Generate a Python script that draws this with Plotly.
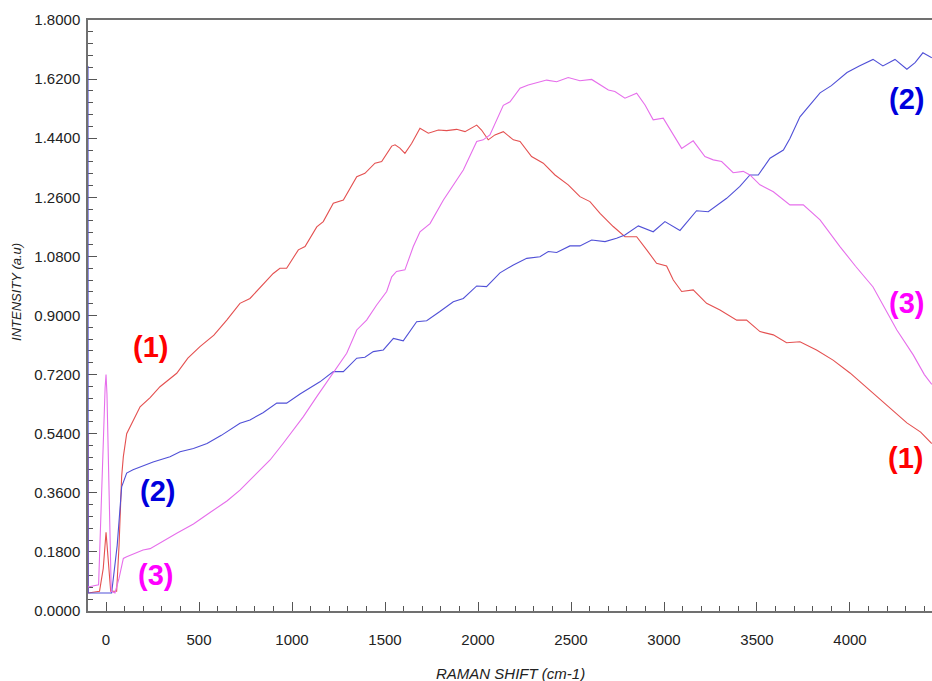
import plotly.graph_objects as go

# ---- data ----
x1 = [-97, -96, -35, -15, 0, 12, 25, 57, 70, 84, 93, 111, 129, 183, 237, 290, 380, 440, 505, 580, 649,
      720, 774, 844, 899, 935, 971, 1034, 1070, 1133, 1168, 1222, 1276, 1348, 1392, 1446, 1482, 1536,
      1554, 1580, 1607, 1643, 1688, 1733, 1787, 1831, 1885, 1930, 1993, 2019, 2055, 2091, 2136, 2190,
      2226, 2288, 2351, 2414, 2485, 2548, 2602, 2656, 2727, 2790, 2853, 2907, 2960, 3014, 3050, 3095,
      3157, 3229, 3301, 3391, 3444, 3516, 3588, 3659, 3731, 3820, 3909, 4000, 4091, 4200, 4306, 4380, 4440]
y1 = [0.54, 0.055, 0.06, 0.13, 0.24, 0.14, 0.06, 0.06, 0.2, 0.41, 0.47, 0.54, 0.56, 0.622, 0.65, 0.683,
      0.724, 0.77, 0.805, 0.84, 0.886, 0.937, 0.952, 0.993, 1.028, 1.044, 1.044, 1.10, 1.11, 1.17, 1.186,
      1.242, 1.252, 1.323, 1.333, 1.364, 1.369, 1.416, 1.42, 1.41, 1.394, 1.424, 1.47, 1.455, 1.465, 1.463,
      1.467, 1.46, 1.48, 1.465, 1.435, 1.45, 1.46, 1.435, 1.43, 1.384, 1.364, 1.328, 1.298, 1.262, 1.247,
      1.211, 1.171, 1.14, 1.14, 1.10, 1.059, 1.051, 1.008, 0.973, 0.978, 0.937, 0.917, 0.886, 0.886,
      0.851, 0.841, 0.817, 0.82, 0.795, 0.764, 0.725, 0.68, 0.625, 0.573, 0.545, 0.51]

x2 = [-97, -96, 30, 60, 84, 111, 145, 237, 253, 344, 398, 470, 543, 620, 720, 774, 844, 918, 971, 1043,
      1150, 1222, 1276, 1348, 1392, 1437, 1491, 1545, 1598, 1670, 1724, 1795, 1867, 1921, 1993, 2046,
      2118, 2190, 2262, 2333, 2378, 2423, 2494, 2548, 2611, 2683, 2745, 2790, 2862, 2942, 3005, 3086,
      3175, 3238, 3337, 3408, 3462, 3507, 3570, 3642, 3677, 3731, 3839, 3900, 3984, 4050, 4124, 4177,
      4242, 4306, 4350, 4392, 4440]
y2 = [1.66, 0.055, 0.055, 0.2, 0.378, 0.42, 0.43, 0.45, 0.454, 0.47, 0.485, 0.495, 0.51, 0.535, 0.572,
      0.582, 0.604, 0.633, 0.633, 0.661, 0.698, 0.729, 0.729, 0.77, 0.773, 0.79, 0.795, 0.83, 0.823,
      0.881, 0.884, 0.912, 0.942, 0.952, 0.99, 0.988, 1.03, 1.054, 1.074, 1.079, 1.095, 1.092, 1.112,
      1.112, 1.13, 1.125, 1.135, 1.145, 1.173, 1.155, 1.186, 1.159, 1.219, 1.216, 1.257, 1.293, 1.328,
      1.328, 1.379, 1.404, 1.439, 1.505, 1.578, 1.60, 1.64, 1.66, 1.68, 1.66, 1.68, 1.65, 1.67, 1.70, 1.685]

x3 = [-97, -40, -5, 0, 5, 28, 48, 70, 93, 111, 199, 237, 380, 470, 559, 650, 720, 810, 882, 953, 1061,
      1133, 1195, 1240, 1294, 1348, 1401, 1455, 1509, 1536, 1562, 1607, 1652, 1688, 1742, 1814, 1921,
      1993, 2028, 2064, 2136, 2172, 2226, 2270, 2333, 2369, 2423, 2485, 2548, 2611, 2701, 2736, 2790,
      2853, 2898, 2942, 2996, 3041, 3095, 3157, 3220, 3265, 3310, 3372, 3426, 3462, 3516, 3588, 3677,
      3749, 3839, 3946, 4030, 4124, 4190, 4252, 4340, 4400, 4440]
y3 = [0.073, 0.08, 0.68, 0.72, 0.66, 0.06, 0.055, 0.1, 0.16, 0.165, 0.186, 0.19, 0.237, 0.265, 0.30,
      0.335, 0.368, 0.419, 0.46, 0.511, 0.592, 0.653, 0.704, 0.744, 0.785, 0.856, 0.886, 0.932, 0.973,
      1.018, 1.034, 1.039, 1.11, 1.155, 1.18, 1.252, 1.343, 1.43, 1.435, 1.45, 1.54, 1.551, 1.592, 1.602,
      1.612, 1.617, 1.612, 1.625, 1.615, 1.619, 1.587, 1.582, 1.562, 1.577, 1.541, 1.496, 1.501, 1.46,
      1.409, 1.432, 1.384, 1.374, 1.369, 1.335, 1.339, 1.328, 1.298, 1.277, 1.237, 1.237, 1.191, 1.11,
      1.05, 0.987, 0.92, 0.856, 0.78, 0.72, 0.69]

y_ticks = [0.0, 0.18, 0.36, 0.54, 0.72, 0.90, 1.08, 1.26, 1.44, 1.62, 1.80]
x_ticks = [0, 500, 1000, 1500, 2000, 2500, 3000, 3500, 4000]

labels = ["(1)", "(1)", "(2)", "(2)", "(3)", "(3)"]
label_x = [237, 4300, 274, 4305, 264, 4305]
label_y = [0.804, 0.466, 0.367, 1.56, 0.11, 0.937]
label_col = ["#ff0000", "#ff0000", "#0000dd", "#0000dd", "#ff00ff", "#ff00ff"]

FONT = "Liberation Sans, Arial, sans-serif"

fig = go.Figure()
fig.add_trace(go.Scatter(x=x1, y=y1, mode="lines", line=dict(color="rgb(228,80,80)", width=1.1),
                         showlegend=False))
fig.add_trace(go.Scatter(x=x2, y=y2, mode="lines", line=dict(color="rgb(80,80,215)", width=1.1),
                         showlegend=False))
fig.add_trace(go.Scatter(x=x3, y=y3, mode="lines", line=dict(color="rgb(230,110,235)", width=1.1),
                         showlegend=False))

for t, xx, yy, c in zip(labels, label_x, label_y, label_col):
    fig.add_annotation(x=xx, y=yy, text="<b>%s</b>" % t, showarrow=False,
                       font=dict(family=FONT, size=29, color=c), xanchor="center", yanchor="middle")

fig.add_annotation(xref="paper", yref="paper", x=0.5, y=-0.105, text="<i>RAMAN SHIFT (cm-1)</i>",
                   showarrow=False, font=dict(family=FONT, size=15, color="#222"),
                   xanchor="center", yanchor="middle")
fig.add_annotation(xref="paper", yref="paper", x=-0.0841, y=0.54, text="<i>INTENSITY (a.u)</i>",
                   showarrow=False, textangle=-90, font=dict(family=FONT, size=13, color="#222"),
                   xanchor="center", yanchor="middle")

fig.update_layout(
    width=932, height=681,
    margin=dict(l=88, r=0, t=20, b=70),
    paper_bgcolor="white", plot_bgcolor="white",
    font=dict(family=FONT, size=15, color="#222"),
    xaxis=dict(range=[-97, 4441], tickvals=x_ticks, ticktext=[str(v) for v in x_ticks],
               ticks="inside", ticklen=9, tickcolor="#555", tickwidth=1,
               minor=dict(dtick=100, tick0=0, ticks="inside", ticklen=5, tickcolor="#555"),
               showline=True, linecolor="#707070", linewidth=1.5, mirror=True,
               showgrid=False, zeroline=False, ticklabelstandoff=14, layer="below traces",
               tickfont=dict(size=15)),
    yaxis=dict(range=[0, 1.8], tickvals=y_ticks, ticktext=["%.4f" % v for v in y_ticks],
               ticks="inside", ticklen=9, tickcolor="#555", tickwidth=1,
               minor=dict(dtick=0.036, tick0=0, ticks="inside", ticklen=5, tickcolor="#555"),
               showline=True, linecolor="#707070", linewidth=1.5,
               showgrid=False, zeroline=False, ticklabelstandoff=3, layer="below traces",
               tickfont=dict(size=15)),
)

fig.write_html("out.html", config={"displayModeBar": False},
               post_script="document.body.style.margin='0';document.body.style.overflow='hidden';")
